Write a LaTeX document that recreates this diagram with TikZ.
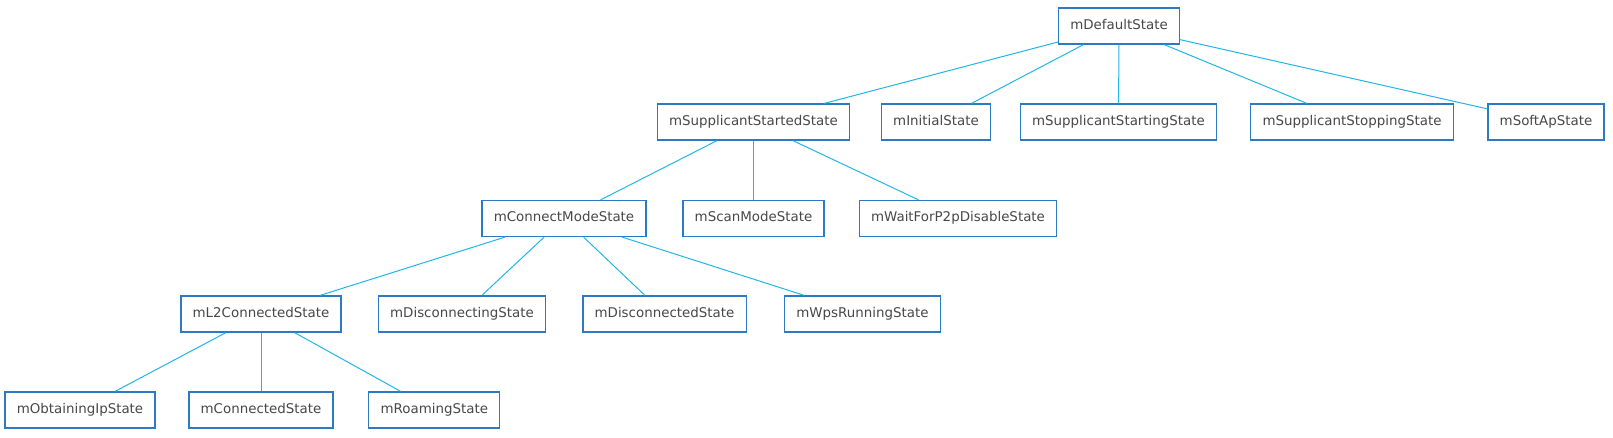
\documentclass[tikz,border=0pt]{standalone}
\usepackage{fontspec}
\setmainfont{DejaVu Sans}
\definecolor{boxcol}{RGB}{45,122,196}
\definecolor{edgecol}{RGB}{32,182,230}
\definecolor{txtcol}{RGB}{72,72,72}
\begin{document}
\begin{tikzpicture}[x=1pt,y=-1pt,
  st/.style={draw=boxcol,line width=1.3pt,fill=white,text=txtcol,
    font=\fontsize{13.4}{16}\selectfont,inner xsep=11.8pt,inner ysep=0pt,
    minimum height=36pt,text height=10pt,text depth=3pt},
  ed/.style={draw=edgecol,line width=1pt}]
\useasboundingbox (0,0) rectangle (1613,438);
% row 1
\node[st] (def) at (1119,26) {mDefaultState};
% row 2
\node[st] (sstarted) at (753.5,122) {mSupplicantStartedState};
\node[st] (init) at (936,122) {mInitialState};
\node[st] (sstarting) at (1118.5,122) {mSupplicantStartingState};
\node[st] (sstopping) at (1352,122) {mSupplicantStoppingState};
\node[st] (softap) at (1546,122) {mSoftApState};
% row 3
\node[st] (conn) at (564,218.5) {mConnectModeState};
\node[st] (scan) at (753.5,218.5) {mScanModeState};
\node[st] (wait) at (958,218.5) {mWaitForP2pDisableState};
% row 4
\node[st] (l2) at (261,314) {mL2ConnectedState};
\node[st] (discing) at (462,314) {mDisconnectingState};
\node[st] (disced) at (664.5,314) {mDisconnectedState};
\node[st] (wps) at (862.5,314) {mWpsRunningState};
% row 5
\node[st] (obt) at (80,410) {mObtainingIpState};
\node[st] (connd) at (261,410) {mConnectedState};
\node[st] (roam) at (434.3,410) {mRoamingState};
% edges
\draw[ed] (def) -- (sstarted);
\draw[ed] (def) -- (init);
\draw[ed] (def) -- (sstarting);
\draw[ed] (def) -- (sstopping);
\draw[ed] (def) -- (softap);
\draw[ed] (sstarted) -- (conn);
\draw[ed] (sstarted) -- (scan);
\draw[ed] (sstarted) -- (wait);
\draw[ed] (conn) -- (l2);
\draw[ed] (conn) -- (discing);
\draw[ed] (conn) -- (disced);
\draw[ed] (conn) -- (wps);
\draw[ed] (l2) -- (obt);
\draw[ed] (l2) -- (connd);
\draw[ed] (l2) -- (roam);
\end{tikzpicture}
\end{document}
